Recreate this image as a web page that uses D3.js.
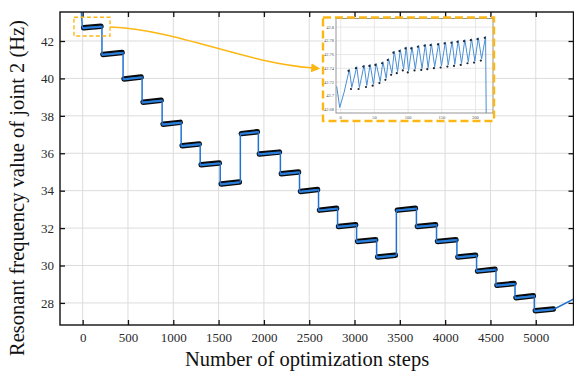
<!DOCTYPE html>
<html>
<head>
<meta charset="utf-8">
<script src="https://cdn.jsdelivr.net/npm/d3@7"></script>
<style>
  html, body { margin: 0; padding: 0; background: #fff; }
  svg { display: block; }
  text { font-family: "Liberation Serif", "Times New Roman", serif; }
</style>
</head>
<body>
<svg id="chart" width="574" height="372"></svg>
<script>
// ---------- data ----------
const xTicks = [0, 500, 1000, 1500, 2000, 2500, 3000, 3500, 4000, 4500, 5000];
const yTicks = [28, 30, 32, 34, 36, 38, 40, 42];

// each plateau: start step, end step, value at start, value at end
const plateauStart = [0, 213, 446, 656, 877, 1087, 1297, 1518, 1740, 1939, 2182, 2393,
                      2603, 2813, 3023, 3244, 3462, 3683, 3905, 4130, 4347, 4561, 4771, 4984];
const plateauEnd   = [213, 446, 656, 877, 1087, 1297, 1518, 1740, 1939, 2182, 2393, 2603,
                      2813, 3023, 3244, 3462, 3683, 3905, 4130, 4347, 4561, 4771, 4984, 5205];
const levelStart   = [42.71, 41.28, 39.97, 38.73, 37.55, 36.40, 35.38, 34.36, 37.05, 35.96, 34.90, 33.96,
                      32.96, 32.08, 31.28, 30.45, 32.96, 32.08, 31.28, 30.45, 29.70, 28.94, 28.28, 27.58];
const levelEnd     = [42.79, 41.38, 40.07, 38.83, 37.65, 36.50, 35.48, 34.46, 37.15, 36.06, 35.00, 34.06,
                      33.06, 32.18, 31.38, 30.55, 33.06, 32.18, 31.38, 30.55, 29.80, 29.04, 28.38, 27.68];
// lead-in before the first plateau and tail after the last one
const leadSteps  = [-25, -3];
const leadValues = [44.3, 42.71];
const tailSteps  = [5434];
const tailValues = [28.25];

// inset (zoom of the first plateau)
const insetXTicks = [0, 50, 100, 150, 200];
const insetYTicks = [42.68, 42.7, 42.72, 42.74, 42.76, 42.78, 42.8];
const insetYLabels = ["42.68", "42.7", "42.72", "42.74", "42.76", "42.78", "42.8"];
const insetSteps = [-6, -1.5, 5, 12.8, 16.4, 23.8, 27.7, 34.7, 38.7, 43.7, 48.6, 52.6, 58.6, 62.6,
  67.5, 70.9, 76, 79.4, 84.4, 88.4, 93.3, 97.3, 100.7, 105.8, 110.7, 115.6, 120.7, 125.6,
  129.7, 134.6, 139.5, 145.5, 149.5, 155.4, 159.5, 165.4, 169.3, 174.4, 179.3, 184.2,
  189.3, 194.2, 199.1, 204.2, 209.1, 215, 216.5];
const insetValues = [42.714, 42.683, 42.705, 42.7385, 42.7121, 42.7424, 42.7121, 42.7448, 42.7150,
  42.7457, 42.7169, 42.7471, 42.7207, 42.7496, 42.7255, 42.7543, 42.7327, 42.7650, 42.7352,
  42.7673, 42.7391, 42.7712, 42.7362, 42.7712, 42.7391, 42.7736, 42.7399, 42.7751, 42.7409,
  42.7759, 42.7424, 42.7769, 42.7434, 42.7784, 42.7448, 42.7794, 42.7457, 42.7808, 42.7471,
  42.7817, 42.7496, 42.7831, 42.7506, 42.7846, 42.7535, 42.7866, 42.60];

// ---------- layout ----------
const svg = d3.select("#chart");
const L = 60, R = 574, T = 12, B = 325;
const x = d3.scaleLinear().domain([-250, 5422]).range([L, R]);
const y = d3.scaleLinear().domain([26.82, 43.55]).range([B, T]);

const gold = "#fdb714";
const blue = "#1f72d2";

// grid
const grid = svg.append("g");
grid.selectAll("line.gx").data(xTicks).join("line")
  .attr("x1", d => x(d)).attr("x2", d => x(d)).attr("y1", T).attr("y2", B)
  .attr("stroke", "#dcdcdc").attr("stroke-width", 1);
grid.selectAll("line.gy").data(yTicks).join("line")
  .attr("x1", L).attr("x2", R).attr("y1", d => y(d)).attr("y2", d => y(d))
  .attr("stroke", "#dcdcdc").attr("stroke-width", 1);

// clip
svg.append("defs").append("clipPath").attr("id", "plotclip")
  .append("rect").attr("x", L).attr("y", T).attr("width", R - L).attr("height", B - T);

const plot = svg.append("g").attr("clip-path", "url(#plotclip)");

// plateau marker bands (dense black markers)
plot.selectAll("line.band").data(plateauStart).join("line")
  .attr("x1", (d, i) => x(d) + 1).attr("x2", (d, i) => x(plateauEnd[i]) - 1)
  .attr("y1", (d, i) => y(levelStart[i])).attr("y2", (d, i) => y(levelEnd[i]))
  .attr("stroke", "#0a0a0a").attr("stroke-width", 5.5).attr("stroke-linecap", "round");

// blue step line
const pts = [];
leadSteps.forEach((s, i) => pts.push([s, leadValues[i]]));
plateauStart.forEach((s, i) => {
  pts.push([s, levelStart[i]]);
  pts.push([plateauEnd[i], levelEnd[i]]);
});
tailSteps.forEach((s, i) => pts.push([s, tailValues[i]]));
plot.append("path").datum(pts)
  .attr("d", d3.line().x(d => x(d[0])).y(d => y(d[1])))
  .attr("fill", "none").attr("stroke", blue).attr("stroke-width", 1.5);

// plateau blue core (thicker inside band)
plot.selectAll("line.core").data(plateauStart).join("line")
  .attr("x1", (d, i) => x(d)).attr("x2", (d, i) => x(plateauEnd[i]) - 1)
  .attr("y1", (d, i) => y(levelStart[i]) + 0.5).attr("y2", (d, i) => y(levelEnd[i]) + 0.5)
  .attr("stroke", "#2a7fdc").attr("stroke-width", 2);

// axes with inward ticks
const axFont = g => g.selectAll("text").attr("font-family", "Liberation Serif").attr("font-size", 13).attr("fill", "#2a2a2a");
svg.append("g").attr("transform", `translate(0,${B})`)
  .call(d3.axisBottom(x).tickValues(xTicks).tickSize(-5).tickPadding(8).tickFormat(d3.format("d")))
  .call(g => g.select(".domain").remove()).call(axFont);
svg.append("g").attr("transform", `translate(0,${T})`)
  .call(d3.axisTop(x).tickValues(xTicks).tickSize(-5).tickFormat(""))
  .call(g => g.select(".domain").remove());
svg.append("g").attr("transform", `translate(${L},0)`)
  .call(d3.axisLeft(y).tickValues(yTicks).tickSize(-5).tickPadding(6).tickFormat(d3.format("d")))
  .call(g => g.select(".domain").remove()).call(axFont);
svg.append("g").attr("transform", `translate(${R - 0.5},0)`)
  .call(d3.axisRight(y).tickValues(yTicks).tickSize(-5).tickFormat(""))
  .call(g => g.select(".domain").remove());
svg.selectAll(".tick line").attr("stroke", "#111").attr("stroke-width", 1.3);

// frame
svg.append("rect").attr("x", L).attr("y", T).attr("width", R - L - 0.5).attr("height", B - T)
  .attr("fill", "none").attr("stroke", "#111").attr("stroke-width", 1.4);

// axis titles
svg.append("text").attr("x", 307).attr("y", 366).attr("text-anchor", "middle")
  .attr("font-size", 20.5).attr("fill", "#111").text("Number of optimization steps");
svg.append("text").attr("transform", "translate(24,188) rotate(-90)").attr("text-anchor", "middle")
  .attr("font-size", 20.5).attr("fill", "#111").text("Resonant frequency value of joint 2 (Hz)");

// small dashed box around first plateau
svg.append("rect")
  .attr("x", x(-96)).attr("y", y(43.27)).attr("width", x(302) - x(-96)).attr("height", y(42.27) - y(43.27))
  .attr("fill", "none").attr("stroke", gold).attr("stroke-width", 1.4).attr("stroke-dasharray", "4,2.5");

// arrow
svg.append("defs").append("marker").attr("id", "arr").attr("viewBox", "0 0 10 10")
  .attr("refX", 2).attr("refY", 5).attr("markerWidth", 6).attr("markerHeight", 6)
  .attr("orient", "auto").attr("markerUnits", "strokeWidth")
  .append("path").attr("d", "M0,0 L10,5 L0,10 z").attr("fill", gold);
svg.append("path").attr("d", "M110,27 C180,30 240,62 313,68")
  .attr("fill", "none").attr("stroke", gold).attr("stroke-width", 1.5).attr("marker-end", "url(#arr)");

// ---------- inset ----------
const iL = 336, iR = 493, iT = 18.5, iB = 113;
const ix = d3.scaleLinear().domain([-7, 226]).range([iL, iR]);
const iy = d3.scaleLinear().domain([42.675, 42.8125]).range([iB, iT]);
const inset = svg.append("g");
inset.append("rect").attr("x", 323).attr("y", 17.5).attr("width", 171).attr("height", 103.5).attr("fill", "#fff");
inset.selectAll("line.igx").data(insetXTicks).join("line")
  .attr("x1", d => ix(d)).attr("x2", d => ix(d)).attr("y1", iT).attr("y2", iB)
  .attr("stroke", "#e2e2e2").attr("stroke-width", 0.8);
inset.selectAll("line.igy").data(insetYTicks).join("line")
  .attr("x1", iL).attr("x2", iR).attr("y1", d => iy(d)).attr("y2", d => iy(d))
  .attr("stroke", "#e2e2e2").attr("stroke-width", 0.8);
svg.append("defs").append("clipPath").attr("id", "insetclip")
  .append("rect").attr("x", iL).attr("y", iT).attr("width", iR - iL).attr("height", iB - iT);
const ipl = inset.append("g").attr("clip-path", "url(#insetclip)");
const ipts = insetSteps.map((s, i) => [s, insetValues[i]]);
ipl.append("path").datum(ipts)
  .attr("d", d3.line().x(d => ix(d[0])).y(d => iy(d[1])))
  .attr("fill", "none").attr("stroke", "#4a8fd4").attr("stroke-width", 1);
ipl.selectAll("circle").data(ipts.slice(3, ipts.length - 1)).join("circle")
  .attr("cx", d => ix(d[0]) - 0.8).attr("cy", d => iy(d[1]) + 1.5).attr("r", 1.1)
  .attr("fill", "#1b2533");
inset.append("rect").attr("x", iL).attr("y", iT).attr("width", iR - iL).attr("height", iB - iT)
  .attr("fill", "none").attr("stroke", "#8a8a8a").attr("stroke-width", 0.9);
inset.selectAll("text.ixl").data(insetXTicks).join("text")
  .attr("x", d => ix(d)).attr("y", 118.5).attr("text-anchor", "middle")
  .attr("font-size", 4.5).attr("fill", "#555").text(d => d);
inset.selectAll("text.iyl").data(insetYTicks).join("text")
  .attr("x", iL - 2).attr("y", d => iy(d) + 1.5).attr("text-anchor", "end")
  .attr("font-size", 4.5).attr("fill", "#555").text((d, i) => insetYLabels[i]);
inset.append("rect").attr("x", 323).attr("y", 17.5).attr("width", 171).attr("height", 103.5)
  .attr("fill", "none").attr("stroke", gold).attr("stroke-width", 2.4).attr("stroke-dasharray", "8,4");
</script>
</body>
</html>
